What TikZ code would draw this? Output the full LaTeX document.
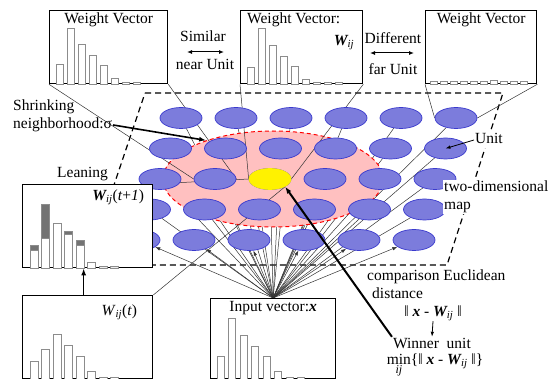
\documentclass[tikz,border=0pt]{standalone}
\usepackage{fontspec}
\setmainfont{Liberation Serif}
\usetikzlibrary{shapes.geometric, arrows.meta, positioning, calc, backgrounds}
\definecolor{unitfill}{RGB}{124,124,220}
\definecolor{unitline}{RGB}{58,58,205}
\definecolor{nbfill}{RGB}{255,192,192}
\tikzset{
    box/.style={draw=black, line width=1.3pt, fill=white, anchor=north west, inner sep=0pt},
    bar/.style={draw=black!45, line width=0.8pt, fill=white},
    gain/.style={draw=black!45, line width=0.8pt, fill=black!55},
    unit/.style={ellipse, draw=unitline, fill=unitfill, line width=0.7pt, minimum width=42pt, minimum height=21pt, inner sep=0pt},
    winunit/.style={unit, draw=yellow, fill=yellow},
    nbhd/.style={ellipse, draw=red, fill=nbfill, line width=1pt, dash pattern=on 4pt off 3pt, minimum width=220pt, minimum height=96pt, inner sep=0pt},
    ray/.style={black!80, line width=0.5pt},
    txt/.style={inner sep=1pt, text height=10.5pt, text depth=3.5pt},
    label/.style={txt, fill=white},
    arrow/.style={-{Latex[length=7pt,width=5pt]}, line width=1.6pt},
    thinarrow/.style={-{Latex[length=5pt,width=3.5pt]}, line width=0.8pt},
    dblarrow/.style={{Latex[length=5pt,width=4pt]}-{Latex[length=5pt,width=4pt]}, line width=1pt},
    mapedge/.style={line width=1.2pt, dash pattern=on 6pt off 4pt}
}
\newcommand{\Wij}{{\bfseries\itshape W}\textsubscript{\itshape ij}}
\newcommand{\xvec}{{\bfseries\itshape x}}
% histogram: box, first offset, pitch, bar width, heights
\newcommand{\histo}[5]{%
    \foreach \h [count=\i from 0] in {#5}
        \draw[bar] ($(#1.south west)+(#2+\i*#3,0)$) rectangle ++(#4,-\h);}

\begin{document}
\begin{tikzpicture}[x=1pt, y=-1pt, font=\fontsize{15.5}{17}\selectfont]
    \useasboundingbox (0,0) rectangle (554,379);

    % units of the map
    \foreach \r in {0,...,4}
        \foreach \c in {0,...,5}
            \node[unit] (u\r\c) at (181-10.5*\r+55*\c, 118+30.5*\r) {};
    \node[winunit] (winner) at (u22) {};

    % weight vector boxes
    \node[box, minimum width=118pt, minimum height=73pt] (wnear) at (49,10) {};
    \node[box, minimum width=122pt, minimum height=73pt] (wwin) at (240,10) {};
    \node[box, minimum width=111pt, minimum height=73pt] (wfar) at (425,10) {};
    \node[box, minimum width=130pt, minimum height=83pt] (wnext) at (22,184) {};
    \node[box, minimum width=130pt, minimum height=83pt] (wnow) at (22,295) {};
    \node[box, minimum width=125pt, minimum height=80pt] (input) at (210,298) {};

    \histo{wnear}{7}{11}{7}{20,56,40,29,19,6,1.5,1.5}
    \histo{wwin}{7}{11}{7}{17,56,39,28,18,5,1.5,1.5,1.5}
    \histo{wfar}{5}{10}{7}{3,3,3,3,3,3,4,3,3,3}
    \histo{input}{7}{11.5}{7}{23,61,44,33,23,8,2,2}
    \histo{wnow}{8}{11.5}{8}{18,30,45,34,23,8,2,2}
    \foreach \h/\g [count=\i from 0] in {18/5,30/34,45/0,34/3,23/5,6/0,1.5/0,1.5/0} {
        \draw[bar] ($(wnext.south west)+(8+\i*11.5,0)$) rectangle ++(8,-\h);
        \draw[gain] ($(wnext.south west)+(8+\i*11.5,-\h)$) rectangle ++(8,-\g);
    }

    \node[txt, below=2pt of wnear.north] (tnear) {Weight Vector};
    \node[txt, anchor=north west] (twin) at ($(wwin.north west)+(6,2)$) {Weight Vector:};
    \node[txt, anchor=east] (wijlbl) at ($(wwin.north east)+(-8,32)$) {\Wij};
    \node[txt, below=2pt of wfar.north] (tfar) {Weight Vector};
    \node[txt, anchor=east] (nextlbl) at ($(wnext.north east)+(-8,13)$) {\Wij(\textit{t}+\textit{1})};
    \node[txt, anchor=east] (nowlbl) at ($(wnow.north east)+(-15,17)$) {\textit{W}\textsubscript{\itshape ij}(\textit{t})};
    \node[txt, below=2pt of input.north] (inlbl) {Input vector:\xvec};

    % near / far
    \node[txt] (similar) at (203,38) {Similar};
    \node[txt] (nearu) at (205,66) {near Unit};
    \coordinate (sim-a) at (187,52);
    \coordinate (sim-b) at (224,52);
    \draw[dblarrow] (sim-a) -- (sim-b);
    \node[txt] (diff) at (393,40) {Different};
    \node[txt] (faru) at (393,71) {far Unit};
    \coordinate (dif-a) at (370,53);
    \coordinate (dif-b) at (414,53);
    \draw[dblarrow] (dif-a) -- (dif-b);

    % labels
    \node[txt, anchor=west] (shrink) at (12,107) {Shrinking};
    \node[txt, anchor=west] (sigma) at (12,125) {neighborhood:σ};
    \node[txt, anchor=west] (leaning) at (56,174) {Leaning};
    \node[label, anchor=west] (unitlbl) at (474,140) {Unit};
    \node[label, anchor=west] (twodim) at (443,188) {two-dimensional};
    \node[label, anchor=west] (maplbl) at (443,206) {map};
    \node[txt, anchor=west] (cmp) at (366,277) {comparison Euclidean};
    \node[txt, anchor=west] (dist) at (371,295) {distance};
    \node[txt] (norm) at (433,313) {‖ \xvec{} - \Wij{} ‖};
    \node[txt] (winlbl) at (432,345) {Winner\ \ unit};
    \node[inner sep=1pt, anchor=base] (minlbl) at (435,364)
        {$\mathop{\hbox{min}}\limits_{\hbox{\itshape\fontsize{12}{12}\selectfont ij}}$\{‖ \xvec{} - \Wij{} ‖\}};

    \begin{scope}[on background layer]
        \draw[mapedge] (145,93) -- (503,93) -- (447,265) -- (87,265) -- cycle;
        \foreach \r in {0,...,3}
            \foreach \c in {0,...,5}
                \draw[ray] (input.north) -- (u\r\c);
        \foreach \c in {0,...,5}
            \draw[ray, -{Latex[length=5pt,width=3.5pt]}] (input.north) -- (u4\c);
        \node[nbhd] (nbhd) at (273,179) {};
        \draw[ray] (wnear.south west) -- (u21.west);
        \draw[ray] (wnear.south east) -- (u21.east);
        \draw[ray] (wwin.south west) -- (winner.west);
        \draw[ray] (wwin.south east) -- (winner.east);
        \draw[ray] (wfar.south west) -- (u05.west);
        \draw[ray] (wfar.south east) -- (u05.east);
        \draw[ray] (wnext.north east) -- (winner.west);
        \draw[ray] (wnow.north east) -- (winner.south east);
    \end{scope}

    \draw[arrow] (sigma.east) -- (nbhd.150);
    \draw[arrow, line width=2pt] (winlbl.north west) -- (winner.south east);
    \draw[thinarrow] (unitlbl.west) -- (u15.center);
    \draw[thinarrow] (norm.south) -- (winlbl.north);
    \draw[arrow] ([xshift=-4pt]wnow.north) -- ([xshift=-4pt]wnext.south);
\end{tikzpicture}
\end{document}
